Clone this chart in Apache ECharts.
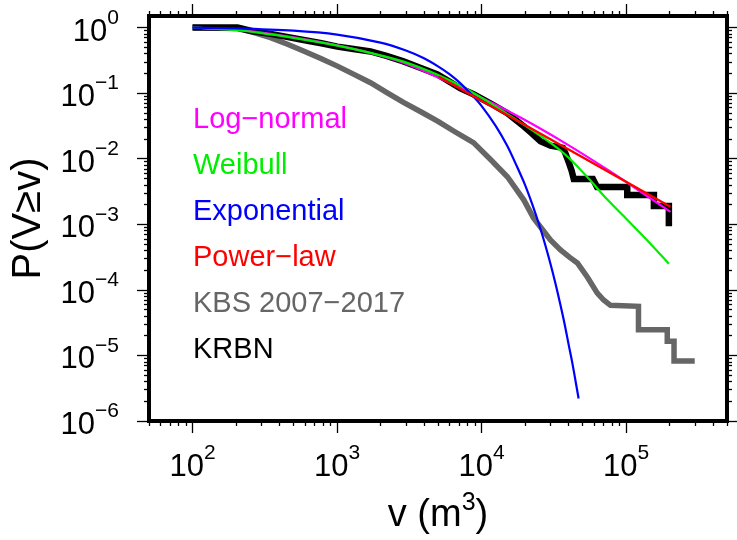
<!DOCTYPE html>
<html>
<head>
<meta charset="utf-8">
<script src="https://cdn.jsdelivr.net/npm/echarts@6/dist/echarts.min.js"></script>
<style>
html,body{margin:0;padding:0;background:#fff;}
#chart{width:737px;height:540px;}
</style>
</head>
<body>
<div id="chart"></div>
<script>
// ---------- data ----------
const krbnV = [100, 205, 260, 347, 450, 587, 780, 1006, 1300, 1706, 2200, 2884, 3800, 4960, 6000, 7160, 8800, 11500, 15100, 19600, 22500, 25600, 30000, 36600, 38000, 40000, 42000, 43500, 59000, 63000, 102000, 102000, 156000, 156000, 198000, 198000];
const krbnP = [1.0, 1.0, 0.88, 0.80, 0.72, 0.645, 0.575, 0.512, 0.47, 0.432, 0.37, 0.305, 0.242, 0.192, 0.15, 0.118, 0.096, 0.07, 0.0495, 0.0312, 0.024, 0.0184, 0.0158, 0.0146, 0.0122, 0.009, 0.0066, 0.0049, 0.0049, 0.0037, 0.0037, 0.0028, 0.0028, 0.0019, 0.0019, 0.00093];

const kbsV = [100, 200, 260, 347, 450, 587, 780, 1006, 1300, 1706, 2200, 2884, 3800, 5000, 6500, 8800, 11500, 15100, 19600, 22900, 25600, 30000, 35200, 41000, 46100, 54100, 63300, 70000, 78100, 122000, 122000, 193000, 193000, 215000, 215000, 299000];
const kbsP = [1.0, 0.97, 0.85, 0.703, 0.56, 0.438, 0.335, 0.258, 0.195, 0.144, 0.103, 0.072, 0.052, 0.037, 0.026, 0.0176, 0.0098, 0.0053, 0.00236, 0.00125, 0.00091, 0.000575, 0.000405, 0.00031, 0.000257, 0.000156, 0.000089, 0.00007, 0.000058, 0.000056, 0.0000246, 0.0000246, 0.0000164, 0.0000164, 0.0000082, 0.0000082];

const lognormV = [100, 205, 347, 587, 1006, 1706, 2884, 4960, 8800, 18600, 39400, 74500, 113000, 203000];
const lognormP = [1.0, 0.92, 0.80, 0.665, 0.535, 0.41, 0.29, 0.175, 0.098, 0.0424, 0.0164, 0.0068, 0.0037, 0.00155];

const weibullV = [100, 205, 347, 587, 1006, 1706, 2884, 4960, 8400, 19600, 33400, 43500, 56000, 74000, 102000, 139000, 198000];
const weibullP = [1.0, 0.91, 0.785, 0.655, 0.53, 0.41, 0.302, 0.19, 0.107, 0.033, 0.0146, 0.0087, 0.0048, 0.0024, 0.00117, 0.00058, 0.00025];

const expV = [100, 200, 500, 1000, 2000, 3000, 4000, 5000, 6000, 7000, 8500, 10000, 12500, 15000, 17500, 20000, 22500, 25000, 27500, 30000, 32500, 35000, 37500, 40000, 42500, 45000, 47000];
const expP = [1.0, 0.973, 0.895, 0.78, 0.59, 0.447, 0.34, 0.256, 0.195, 0.147, 0.096, 0.064, 0.032, 0.016, 0.0078, 0.004, 0.002, 0.001, 0.0005, 0.00025, 0.000125, 0.000062, 0.000031, 0.000015, 0.0000077, 0.0000038, 0.0000022];

const powerV = [5070, 10000, 20000, 50000, 100000, 203000];
const powerP = [0.178, 0.0767, 0.0326, 0.0105, 0.00445, 0.00185];

const legendNames = ['Log−normal', 'Weibull', 'Exponential', 'Power−law', 'KBS 2007−2017', 'KRBN'];
const legendColors = ['#ff00ff', '#00ee00', '#0000ff', '#ff0000', '#666666', '#000000'];

const xTickValues = [1e2, 1e3, 1e4, 1e5];
const xTickExps = ['2', '3', '4', '5'];
const yTickValues = [1e-6, 1e-5, 1e-4, 1e-3, 1e-2, 1e-1, 1];
const yTickExps = ['−6', '−5', '−4', '−3', '−2', '−1', '0'];

// minor tick positions (2..9 x 10^k inside the axis ranges)
const xMinor = [];
for (let k = 1; k <= 5; k++) for (let m = 2; m <= 9; m++) { const v = m * Math.pow(10, k); if (v >= 50 && v <= 500000) xMinor.push(v); }
const yMinor = [];
for (let k = -6; k <= -1; k++) for (let m = 2; m <= 9; m++) yMinor.push(+(m * Math.pow(10, k)).toPrecision(3));

const zip = (a, b) => a.map((v, i) => [v, b[i]]);

const tickFont = '"Liberation Sans Narrow", "Liberation Sans", Arial, sans-serif';
const mainFont = '"Liberation Sans", Arial, sans-serif';

const labelRich = {
  b: { fontSize: 31, fontFamily: tickFont, color: '#000', lineHeight: 40, verticalAlign: 'bottom' },
  s: { fontSize: 21, fontFamily: tickFont, color: '#000', lineHeight: 22, verticalAlign: 'top' }
};

function fmt(values, exps) {
  return function (value, index) {
    let i = values.findIndex(t => Math.abs(t - value) <= t * 1e-6);
    if (i < 0) i = index;
    return '{b|10}{s|' + exps[i] + '}';
  };
}

const X_MIN = 50, X_MAX = 500000, Y_MIN = 1e-6, Y_MAX = 1.5;

function axisBase(extra) {
  return Object.assign({
    type: 'log', logBase: 10,
    axisLine: { show: false, onZero: false },
    splitLine: { show: false },
    minorTick: { show: false },
    axisPointer: { show: false }
  }, extra);
}
function tickCfg(values, len) {
  return { show: true, inside: false, customValues: values, length: len, lineStyle: { color: '#000', width: 1.3 } };
}

const option = {
  animation: false,
  backgroundColor: '#fff',
  grid: { left: 149, right: 10, top: 16, bottom: 119, show: true, borderColor: '#000', borderWidth: 4,
    backgroundColor: 'transparent', containLabel: false, outerBoundsMode: 'none' },
  legend: {
    orient: 'vertical', left: 188, top: 105, itemGap: 16, itemWidth: 0, itemHeight: 0, icon: 'none', padding: 0,
    selectedMode: false,
    textStyle: { fontSize: 29, fontFamily: mainFont, lineHeight: 30 },
    data: legendNames.map((n, i) => ({ name: n, textStyle: { color: legendColors[i] } }))
  },
  xAxis: [
    axisBase({ min: X_MIN, max: X_MAX, position: 'bottom',
      axisTick: tickCfg(xTickValues, 12),
      axisLabel: { show: true, customValues: xTickValues, formatter: fmt(xTickValues, xTickExps), rich: labelRich, margin: 22 },
      name: '{t|v (m}{s|3}{t|)}', nameLocation: 'middle', nameGap: 70,
      nameTextStyle: { rich: {
        t: { fontSize: 38, fontFamily: mainFont, color: '#000', lineHeight: 44, verticalAlign: 'bottom' },
        s: { fontSize: 25, fontFamily: mainFont, color: '#000', lineHeight: 26, verticalAlign: 'top' } } }
    }),
    axisBase({ min: X_MIN, max: X_MAX, position: 'bottom', axisTick: tickCfg(xMinor, 5), axisLabel: { show: false } }),
    axisBase({ min: X_MIN, max: X_MAX, position: 'top', axisTick: tickCfg(xTickValues, 12), axisLabel: { show: false } }),
    axisBase({ min: X_MIN, max: X_MAX, position: 'top', axisTick: tickCfg(xMinor, 5), axisLabel: { show: false } })
  ],
  yAxis: [
    axisBase({ min: Y_MIN, max: Y_MAX, position: 'left',
      axisTick: tickCfg(yTickValues, 12),
      axisLabel: { show: true, customValues: yTickValues, formatter: fmt(yTickValues, yTickExps), rich: labelRich, margin: 30 },
      name: 'P(V≥v)', nameLocation: 'middle', nameGap: 100, nameRotate: 90,
      nameTextStyle: { fontSize: 40, fontFamily: mainFont, color: '#000' }
    }),
    axisBase({ min: Y_MIN, max: Y_MAX, position: 'left', axisTick: tickCfg(yMinor, 5), axisLabel: { show: false } }),
    axisBase({ min: Y_MIN, max: Y_MAX, position: 'right', axisTick: tickCfg(yTickValues, 12), axisLabel: { show: false } }),
    axisBase({ min: Y_MIN, max: Y_MAX, position: 'right', axisTick: tickCfg(yMinor, 5), axisLabel: { show: false } })
  ],
  series: [
    { name: 'KBS 2007−2017', type: 'line', data: zip(kbsV, kbsP), showSymbol: false, symbol: 'none',
      lineStyle: { color: '#666666', width: 5.5, join: 'miter' }, itemStyle: { color: '#666666' }, z: 2 },
    { name: 'KRBN', type: 'line', data: zip(krbnV, krbnP), showSymbol: false, symbol: 'none',
      lineStyle: { color: '#000000', width: 6.5, join: 'miter' }, itemStyle: { color: '#000000' }, z: 3 },
    { name: 'Log−normal', type: 'line', data: zip(lognormV, lognormP), showSymbol: false, symbol: 'none', smooth: 0.3,
      lineStyle: { color: '#ff00ff', width: 2.2 }, itemStyle: { color: '#ff00ff' }, z: 4 },
    { name: 'Weibull', type: 'line', data: zip(weibullV, weibullP), showSymbol: false, symbol: 'none', smooth: 0.3,
      lineStyle: { color: '#00ee00', width: 2.2 }, itemStyle: { color: '#00ee00' }, z: 5 },
    { name: 'Exponential', type: 'line', data: zip(expV, expP), showSymbol: false, symbol: 'none', smooth: 0.3,
      lineStyle: { color: '#0000ff', width: 2.2 }, itemStyle: { color: '#0000ff' }, z: 6 },
    { name: 'Power−law', type: 'line', data: zip(powerV, powerP), showSymbol: false, symbol: 'none',
      lineStyle: { color: '#ff0000', width: 2.4 }, itemStyle: { color: '#ff0000' }, z: 7 }
  ]
};

const chart = echarts.init(document.getElementById('chart'), null, { renderer: 'canvas' });
chart.setOption(option);
</script>
</body>
</html>
